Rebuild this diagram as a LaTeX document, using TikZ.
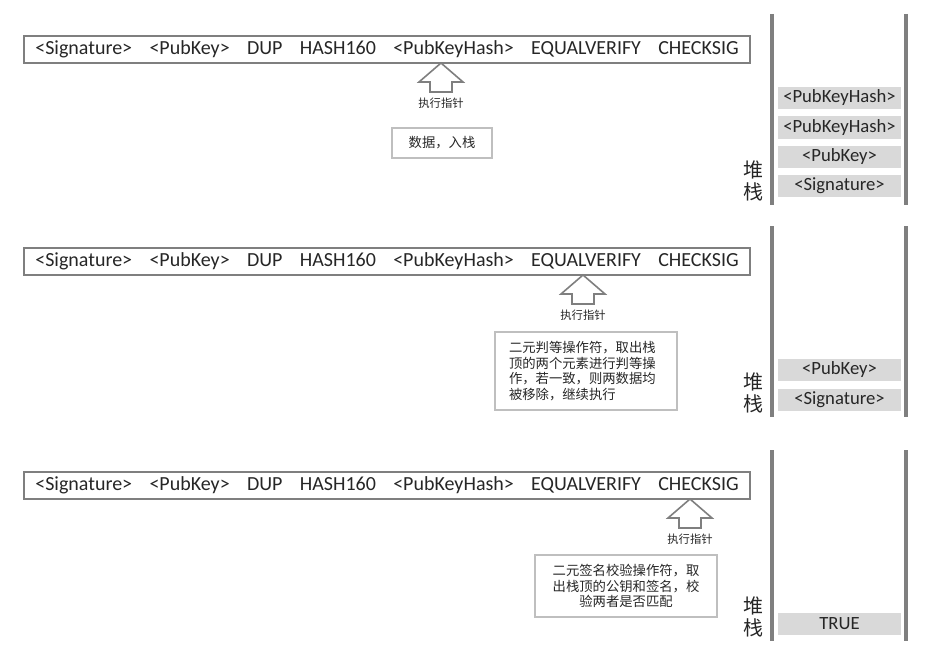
\documentclass[tikz,border=0pt]{standalone}
\usepackage{fontspec}
\setmainfont{Carlito}
\newfontfamily\cjk{Noto Sans CJK SC}
\definecolor{linegray}{HTML}{7F7F7F}
\definecolor{boxgray}{HTML}{BFBFBF}
\definecolor{itemgray}{HTML}{D9D9D9}
\definecolor{ink}{HTML}{262626}
\newcommand{\gapw}{\hspace{13pt}}
\begin{document}
\begin{tikzpicture}[x=0.75pt,y=-0.75pt,
  scriptbox/.style={draw=linegray,line width=1.5pt,minimum width=544pt,minimum height=20pt,inner sep=0pt,text=ink,font=\fontsize{15}{18}\selectfont},
  notebox/.style={draw=boxgray,line width=1pt,inner xsep=10.5pt,text=ink,font=\cjk\fontsize{10}{11.7}\selectfont},
  item/.style={fill=itemgray,minimum width=92pt,minimum height=16.5pt,inner sep=0pt,text=ink,font=\fontsize{14}{16}\selectfont},
  bar/.style={linegray,line width=3pt},
  ptr/.style={draw=linegray,line width=1.2pt,fill=white},
  lbl/.style={text=ink,font=\cjk\fontsize{8.5}{10}\selectfont},
  stklbl/.style={align=center,text=ink,font=\cjk\fontsize{15}{16}\selectfont}]
\useasboundingbox (0,0) rectangle (939,667);

\foreach \d/\px/\i in {0/441/1,212/583/2,436/690/3}{
\node[scriptbox] (scr\i) at (387,\d+49.5) {<Signature>\gapw<PubKey>\gapw DUP\gapw HASH160\gapw<PubKeyHash>\gapw EQUALVERIFY\gapw CHECKSIG};
\draw[ptr] (\px,\d+63)--++(22,19)--++(-11,0)--++(0,10)--++(-22,0)--++(0,-10)--++(-11,0)--cycle;
\node[lbl] (ptr\i) at (\px,\d+103) {执行指针};
\draw[bar] (772,\d+14)--(772,\d+205);
\draw[bar] (906,\d+14)--(906,\d+205);
\node[stklbl] (stk\i) at (753,\d+181) {堆\\栈};
}

% notes
\node[notebox,minimum width=75pt,minimum height=22.5pt] (note1) at (442,143) {数据，入栈};
\node[notebox,text width=115.5pt,align=left,minimum height=58.5pt] (note2) at (586,371)
  {二元判等操作符，取出栈\\顶的两个元素进行判等操\\作，若一致，则两数据均\\被移除，继续执行};
\node[notebox,text width=115.5pt,align=center,minimum height=46.5pt] (note3) at (626,586)
  {二元签名校验操作符，取\\出栈顶的公钥和签名，校\\验两者是否匹配};

% stack contents
\node[item] (hashb) at (839.5,98) {<PubKeyHash>};
\node[item] (hasha) at (839.5,127.5) {<PubKeyHash>};
\node[item] (keya) at (839.5,156.5) {<PubKey>};
\node[item] (siga) at (839.5,186) {<Signature>};
\node[item] (keyb) at (839.5,370) {<PubKey>};
\node[item] (sigb) at (839.5,399.5) {<Signature>};
\node[item] (res) at (839.5,624) {TRUE};

\end{tikzpicture}
\end{document}
